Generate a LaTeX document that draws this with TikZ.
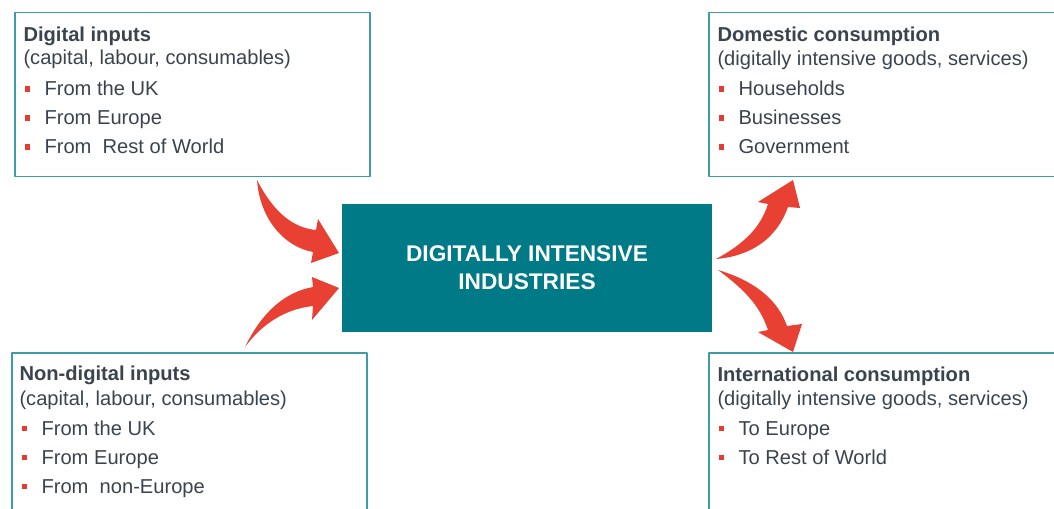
\documentclass[tikz,border=0pt]{standalone}
\usepackage{fontspec}
\setmainfont{Liberation Sans}
\definecolor{panelline}{RGB}{62,156,166}
\definecolor{corefill}{RGB}{0,122,135}
\definecolor{bulletred}{RGB}{232,58,48}
\definecolor{arrowred}{RGB}{233,64,52}
\definecolor{textgrey}{RGB}{58,68,78}
\newcommand{\bul}{{\color{bulletred}\rule[3pt]{4.2pt}{4.2pt}}\hspace{10.8pt}}
\tikzset{
  panel/.style={draw=panelline, line width=1.1pt, fill=white, minimum width=355*0.75pt, minimum height=164*0.75pt, inner sep=0pt},
  core/.style={fill=corefill, minimum width=370*0.75pt, minimum height=128*0.75pt, text=white, align=center,
    font=\fontsize{17}{21}\selectfont\bfseries},
  head/.style={anchor=base west, inner sep=0pt, text=textgrey, font=\fontsize{15.1}{18}\selectfont\bfseries},
  line/.style={anchor=base west, inner sep=0pt, text=textgrey, font=\fontsize{15.1}{18}\selectfont},
  bigarrow/.style={fill=arrowred}
}
\begin{document}
\begin{tikzpicture}[x=0.75pt, y=-0.75pt, line join=round, line cap=round]
	\useasboundingbox (0,0) rectangle (1054,508);
	% boxes
	\node[panel] (digin) at (192.5,94.5) {};
	\node[panel, minimum height=172*0.75pt] (nondigin) at (189.5,439) {};
	\node[panel, minimum width=360*0.75pt] (domcons) at (889,94.5) {};
	\node[panel, minimum width=360*0.75pt, minimum height=172*0.75pt] (intcons) at (889,439) {};
	\node[core] (industry) at (527,268) {DIGITALLY INTENSIVE\\INDUSTRIES};
	% texts
	\node[head] at ([shift={(9,30)}]digin.north west) {Digital inputs};
	\node[line] at ([shift={(9,53)}]digin.north west) {(capital, labour, consumables)};
	\foreach \t [count=\i] in {From the UK, From Europe, From\ \ Rest of World}
		\node[line] at ([shift={(10,{55+29*\i})}]digin.north west) {\bul\t};
	\node[head] at ([shift={(8,28)}]nondigin.north west) {Non-digital inputs};
	\node[line] at ([shift={(8,53)}]nondigin.north west) {(capital, labour, consumables)};
	\foreach \t [count=\i] in {From the UK, From Europe, From\ \ non-Europe}
		\node[line] at ([shift={(10,{54+29*\i})}]nondigin.north west) {\bul\t};
	\node[head] at ([shift={(9,30)}]domcons.north west) {Domestic consumption};
	\node[line] at ([shift={(9,54)}]domcons.north west) {(digitally intensive goods, services)};
	\foreach \t [count=\i] in {Households, Businesses, Government}
		\node[line] at ([shift={(10,{55+29*\i})}]domcons.north west) {\bul\t};
	\node[head] at ([shift={(9,29)}]intcons.north west) {International consumption};
	\node[line] at ([shift={(9,53)}]intcons.north west) {(digitally intensive goods, services)};
	\foreach \t [count=\i] in {To Europe, To Rest of World}
		\node[line] at ([shift={(10,{54+29*\i})}]intcons.north west) {\bul\t};
	% arrows
	\fill[bigarrow] (257,180) .. controls (275,215) and (295,228) .. (316,230) -- (318,219) -- (339,253)
		-- (311,263) -- (313,252) .. controls (285,247) and (260,220) .. (257,180) -- cycle;
	\fill[bigarrow] (245,347) .. controls (262,312) and (285,292) .. (313,287) -- (312,277) -- (339,288)
		-- (312,320) -- (313,306) .. controls (285,309) and (262,324) .. (245,347) -- cycle;
	\fill[bigarrow] (716,259) .. controls (740,246) and (760,230) .. (768,204) -- (758,202) -- (793,180)
		-- (800,208) -- (788,207) .. controls (776,240) and (750,256) .. (716,259) -- cycle;
	\fill[bigarrow] (718,270) .. controls (755,281) and (778,300) .. (787,326) -- (802,324) -- (793,352)
		-- (758,332) -- (768,330) .. controls (760,306) and (745,290) .. (718,270) -- cycle;
\end{tikzpicture}
\end{document}
